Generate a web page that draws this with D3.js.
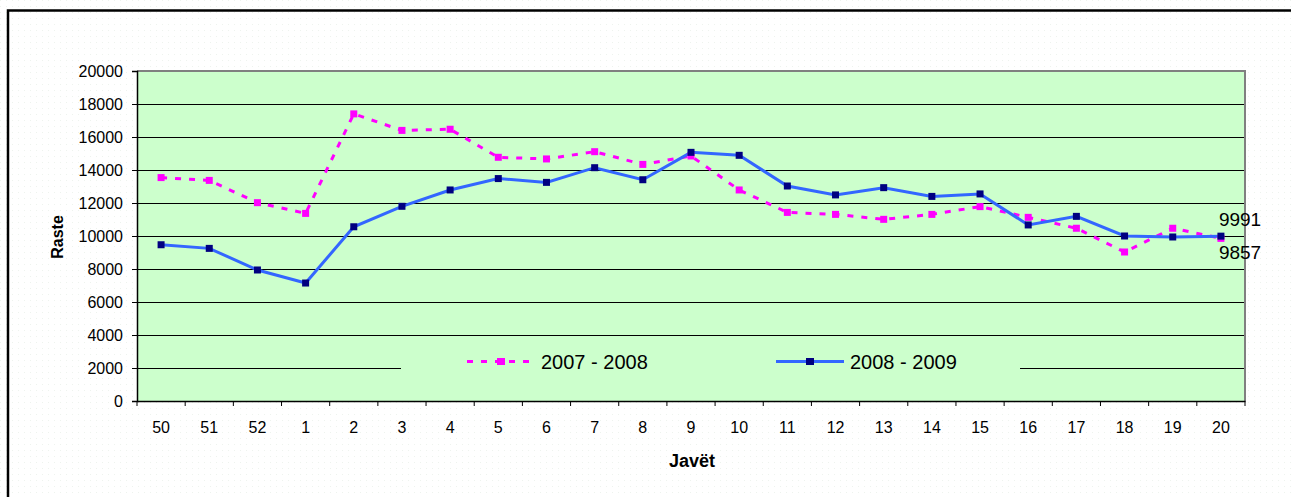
<!DOCTYPE html>
<html>
<head>
<meta charset="utf-8">
<script src="https://cdn.jsdelivr.net/npm/d3@7"></script>
<style>
    body { margin: 0; background: #fff; }
    svg { display: block; font-family: Arial, "Liberation Sans", sans-serif; }
</style>
</head>
<body>
<svg id="chart" width="1291" height="497"></svg>
<script>
const weeks = ['50', '51', '52', '1', '2', '3', '4', '5', '6', '7', '8', '9', '10',
    '11', '12', '13', '14', '15', '16', '17', '18', '19', '20'];

const cases0708 = [13540, 13370, 12020, 11370, 17400, 16400, 16470, 14770, 14670, 15110, 14340, 14850, 12790,
    11430, 11310, 11010, 11310, 11780, 11130, 10470, 9030, 10470, 9857];

const cases0809 = [9470, 9250, 7940, 7150, 10560, 11800, 12790, 13480, 13250, 14140, 13410, 15070, 14890,
    13030, 12490, 12930, 12400, 12550, 10670, 11190, 10000, 9940, 9991];

const yTicks = [0, 2000, 4000, 6000, 8000, 10000, 12000, 14000, 16000, 18000, 20000];

const seriesNames = ['2007 - 2008', '2008 - 2009'];

const svg = d3.select('#chart');

const plot = { left: 137, right: 1245, top: 71, bottom: 401 };

const x = d3.scaleBand().domain(weeks).range([plot.left, plot.right]);
const y = d3.scaleLinear().domain([0, 20000]).range([plot.bottom, plot.top]);
const cx = d => x(d) + x.bandwidth() / 2;

// faint dotted page background
const defs = svg.append('defs');
const pat = defs.append('pattern')
    .attr('id', 'dots')
    .attr('width', 6)
    .attr('height', 6)
    .attr('patternUnits', 'userSpaceOnUse');
pat.append('rect').attr('width', 1).attr('height', 1).attr('fill', '#eef3ee');
svg.append('rect').attr('width', 1291).attr('height', 497).attr('fill', 'url(#dots)');

// outer frame (runs off the right and bottom edges)
svg.append('rect')
    .attr('x', 8)
    .attr('y', 10.5)
    .attr('width', 1300)
    .attr('height', 520)
    .attr('fill', 'none')
    .attr('stroke', '#000')
    .attr('stroke-width', 2.5);

// plot area
svg.append('rect')
    .attr('x', plot.left)
    .attr('y', plot.top)
    .attr('width', plot.right - plot.left)
    .attr('height', plot.bottom - plot.top)
    .attr('fill', '#ccffcc');

svg.append('g')
    .selectAll('line')
    .data(yTicks.slice(1, -1))
    .join('line')
    .attr('x1', plot.left)
    .attr('x2', plot.right)
    .attr('y1', d => Math.round(y(d)) + 0.5)
    .attr('y2', d => Math.round(y(d)) + 0.5)
    .attr('stroke', '#000')
    .attr('stroke-width', 1);

// top and right border in gray
svg.append('path')
    .attr('d', `M${plot.left},${plot.top} H${plot.right} V${plot.bottom}`)
    .attr('fill', 'none')
    .attr('stroke', '#808080')
    .attr('stroke-width', 2);

// legend box hides the grid behind it
svg.append('rect')
    .attr('x', 401)
    .attr('y', 337)
    .attr('width', 619)
    .attr('height', 63)
    .attr('fill', '#ccffcc');

// y axis
const yAxis = svg.append('g')
    .attr('transform', `translate(${plot.left},0)`)
    .call(d3.axisLeft(y).tickValues(yTicks).tickSize(5).tickPadding(9).tickFormat(d3.format('d')));
yAxis.select('.domain').attr('stroke', '#000').attr('stroke-width', 1.5);
yAxis.selectAll('.tick line').attr('stroke', '#000');
yAxis.selectAll('text').attr('font-size', 16).attr('fill', '#000').attr('font-family', 'Arial, sans-serif');

// x axis
const xAxis = svg.append('g')
    .attr('transform', `translate(0,${plot.bottom})`)
    .call(d3.axisBottom(x).tickSize(0).tickPadding(21));
xAxis.select('.domain').attr('stroke', '#000').attr('stroke-width', 1.5);
xAxis.selectAll('text').attr('font-size', 16).attr('fill', '#000').attr('font-family', 'Arial, sans-serif');
xAxis.selectAll('.sep')
    .data(weeks.concat(['end']))
    .join('line')
    .attr('class', 'sep')
    .attr('x1', (d, i) => plot.left + i * x.bandwidth())
    .attr('x2', (d, i) => plot.left + i * x.bandwidth())
    .attr('y1', 0)
    .attr('y2', 5)
    .attr('stroke', '#000');

// axis titles
svg.append('text')
    .attr('transform', 'translate(63,237) rotate(-90)')
    .attr('text-anchor', 'middle')
    .attr('font-size', 16)
    .attr('font-weight', 'bold')
    .text('Raste');

svg.append('text')
    .attr('x', 692)
    .attr('y', 467)
    .attr('text-anchor', 'middle')
    .attr('font-size', 18)
    .attr('font-weight', 'bold')
    .text('Javët');

// lines
const line = d3.line().x((d, i) => cx(weeks[i])).y(d => y(d));

svg.append('path')
    .datum(cases0708)
    .attr('d', line)
    .attr('fill', 'none')
    .attr('stroke', '#ff00ff')
    .attr('stroke-width', 3)
    .attr('stroke-dasharray', '6,8');

svg.append('path')
    .datum(cases0809)
    .attr('d', line)
    .attr('fill', 'none')
    .attr('stroke', '#3366ff')
    .attr('stroke-width', 3);

svg.append('g')
    .selectAll('rect')
    .data(cases0708)
    .join('rect')
    .attr('x', (d, i) => cx(weeks[i]) - 3.5)
    .attr('y', d => y(d) - 3.5)
    .attr('width', 7)
    .attr('height', 7)
    .attr('fill', '#ff00ff');

svg.append('g')
    .selectAll('rect')
    .data(cases0809)
    .join('rect')
    .attr('x', (d, i) => cx(weeks[i]) - 3.5)
    .attr('y', d => y(d) - 3.5)
    .attr('width', 7)
    .attr('height', 7)
    .attr('fill', '#000080');

// end labels
const last = weeks.length - 1;
svg.append('text')
    .attr('x', cx(weeks[last]) - 2)
    .attr('y', y(cases0809[last]) - 10)
    .attr('font-size', 19)
    .text(cases0809[last]);
svg.append('text')
    .attr('x', cx(weeks[last]) - 2)
    .attr('y', y(cases0708[last]) + 21)
    .attr('font-size', 19)
    .text(cases0708[last]);

// legend
const legend = svg.append('g');
const legendItems = [
    { name: seriesNames[0], x0: 467, color: '#ff00ff', marker: '#ff00ff', dash: '6,8' },
    { name: seriesNames[1], x0: 776, color: '#3366ff', marker: '#000080', dash: null }
];
const legendY = 361.5;
legendItems.forEach(item => {
    legend.append('line')
        .attr('x1', item.x0)
        .attr('x2', item.x0 + 68)
        .attr('y1', legendY)
        .attr('y2', legendY)
        .attr('stroke', item.color)
        .attr('stroke-width', 3)
        .attr('stroke-dasharray', item.dash);
    legend.append('rect')
        .attr('x', item.x0 + 34 - 4)
        .attr('y', legendY - 3.5)
        .attr('width', 8)
        .attr('height', 7)
        .attr('fill', item.marker);
    legend.append('text')
        .attr('x', item.x0 + 74)
        .attr('y', legendY + 7)
        .attr('font-size', 20)
        .text(item.name);
});
</script>
</body>
</html>
